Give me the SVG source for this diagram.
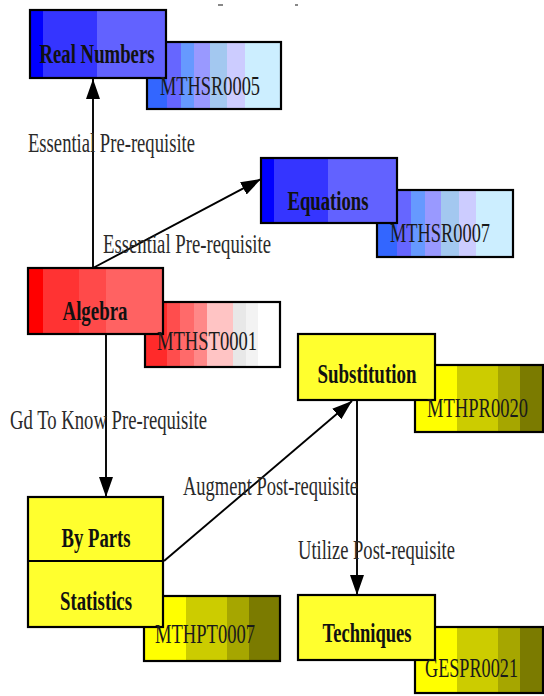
<svg xmlns="http://www.w3.org/2000/svg" width="544" height="696" viewBox="0 0 544 696">
<defs>
<style>
.bx{stroke:#000;stroke-width:2.2}
.nm{font-family:"Liberation Serif","Times New Roman",serif;font-weight:bold;font-size:28px;fill:#111;text-anchor:middle}
.cd{font-family:"Liberation Serif","Times New Roman",serif;font-size:27px;fill:#1a1a1a}
.cs{font-family:"Liberation Serif","Times New Roman",serif;font-size:20px;fill:#1a1a1a}
.lb{font-family:"Liberation Serif","Times New Roman",serif;font-size:27px;fill:#2a2a2a}
.ln{stroke:#000;stroke-width:1.9;fill:none}
.ar{marker-end:url(#ah)}
</style>
<marker id="ah" markerUnits="userSpaceOnUse" markerWidth="22" markerHeight="14" refX="20" refY="7" orient="auto">
<path d="M0,0 L20,7 L0,14 z" fill="#000"/>
</marker>
<linearGradient id="bm" x1="0" x2="1" y1="0" y2="0">
<stop offset="0" stop-color="#0000ff"/><stop offset="0.095" stop-color="#0000ff"/>
<stop offset="0.095" stop-color="#3535ff"/><stop offset="0.49" stop-color="#3535ff"/>
<stop offset="0.49" stop-color="#6262ff"/><stop offset="1" stop-color="#6262ff"/>
</linearGradient>
<linearGradient id="bc" x1="0" x2="1" y1="0" y2="0">
<stop offset="0" stop-color="#3366ff"/><stop offset="0.15" stop-color="#3366ff"/>
<stop offset="0.15" stop-color="#6666ff"/><stop offset="0.25" stop-color="#6666ff"/>
<stop offset="0.25" stop-color="#6699ff"/><stop offset="0.35" stop-color="#6699ff"/>
<stop offset="0.35" stop-color="#9999ff"/><stop offset="0.47" stop-color="#9999ff"/>
<stop offset="0.47" stop-color="#a3c8f0"/><stop offset="0.6" stop-color="#a3c8f0"/>
<stop offset="0.6" stop-color="#ccccff"/><stop offset="0.73" stop-color="#ccccff"/>
<stop offset="0.73" stop-color="#cceeff"/><stop offset="1" stop-color="#cceeff"/>
</linearGradient>
<linearGradient id="rm" x1="0" x2="1" y1="0" y2="0">
<stop offset="0" stop-color="#ff0000"/><stop offset="0.11" stop-color="#ff0000"/>
<stop offset="0.11" stop-color="#ff3333"/><stop offset="0.38" stop-color="#ff3333"/>
<stop offset="0.38" stop-color="#ff4a4a"/><stop offset="0.58" stop-color="#ff4a4a"/>
<stop offset="0.58" stop-color="#ff6262"/><stop offset="1" stop-color="#ff6262"/>
</linearGradient>
<linearGradient id="rc" x1="0" x2="1" y1="0" y2="0">
<stop offset="0" stop-color="#ff2a2a"/><stop offset="0.16" stop-color="#ff2a2a"/>
<stop offset="0.16" stop-color="#ff4d4d"/><stop offset="0.26" stop-color="#ff4d4d"/>
<stop offset="0.26" stop-color="#ff6a6a"/><stop offset="0.36" stop-color="#ff6a6a"/>
<stop offset="0.36" stop-color="#ff8888"/><stop offset="0.46" stop-color="#ff8888"/>
<stop offset="0.46" stop-color="#ffc4c4"/><stop offset="0.65" stop-color="#ffc4c4"/>
<stop offset="0.65" stop-color="#e8e8e8"/><stop offset="0.75" stop-color="#e8e8e8"/>
<stop offset="0.75" stop-color="#f3f3f3"/><stop offset="0.84" stop-color="#f3f3f3"/>
<stop offset="0.84" stop-color="#ffffff"/><stop offset="1" stop-color="#ffffff"/>
</linearGradient>
<linearGradient id="yc" x1="0" x2="1" y1="0" y2="0">
<stop offset="0" stop-color="#ffff00"/><stop offset="0.31" stop-color="#ffff00"/>
<stop offset="0.31" stop-color="#cccc00"/><stop offset="0.61" stop-color="#cccc00"/>
<stop offset="0.61" stop-color="#a6a600"/><stop offset="0.77" stop-color="#a6a600"/>
<stop offset="0.77" stop-color="#7b7b00"/><stop offset="1" stop-color="#7b7b00"/>
</linearGradient>
<linearGradient id="yc2" gradientUnits="userSpaceOnUse" x1="415" x2="551" y1="0" y2="0">
<stop offset="0" stop-color="#ffff00"/><stop offset="0.31" stop-color="#ffff00"/>
<stop offset="0.31" stop-color="#cccc00"/><stop offset="0.61" stop-color="#cccc00"/>
<stop offset="0.61" stop-color="#a6a600"/><stop offset="0.77" stop-color="#a6a600"/>
<stop offset="0.77" stop-color="#7b7b00"/><stop offset="1" stop-color="#7b7b00"/>
</linearGradient>
</defs>
<rect width="544" height="696" fill="#fff"/>
<rect x="218" y="4" width="5" height="2" fill="#888"/>
<rect x="295" y="4" width="3" height="2" fill="#888"/>

<g id="connectors">
<line class="ln ar" x1="93" y1="268" x2="93" y2="79"/>
<line class="ln ar" x1="93" y1="268" x2="261" y2="179"/>
<line class="ln ar" x1="106" y1="334" x2="106" y2="497"/>
<line class="ln ar" x1="164" y1="561" x2="352" y2="401"/>
<line class="ln ar" x1="357" y1="400" x2="357" y2="595"/>
</g>

<g id="labels">
<text class="lb" x="28" y="152" textLength="167" lengthAdjust="spacingAndGlyphs">Essential Pre-requisite</text>
<text class="lb" x="103" y="253" textLength="168" lengthAdjust="spacingAndGlyphs">Essential Pre-requisite</text>
<text class="lb" x="10" y="429" textLength="197" lengthAdjust="spacingAndGlyphs">Gd To Know Pre-requisite</text>
<text class="lb" x="183" y="495" textLength="175" lengthAdjust="spacingAndGlyphs">Augment Post-requisite</text>
<text class="lb" x="298" y="559" textLength="157" lengthAdjust="spacingAndGlyphs">Utilize Post-requisite</text>
</g>

<g id="real-numbers">
<rect class="bx" x="147" y="42" width="134" height="67" fill="url(#bc)"/>
<rect class="bx" x="30" y="10" width="136" height="68" fill="url(#bm)"/>
<text class="nm" x="97" y="63" textLength="115" lengthAdjust="spacingAndGlyphs">Real Numbers</text>
<text class="cd" x="160" y="95" textLength="100" lengthAdjust="spacingAndGlyphs">MTHSR0005</text>
</g>

<g id="equations">
<rect class="bx" x="377" y="190" width="136" height="67" fill="url(#bc)"/>
<rect class="bx" x="261" y="158" width="136" height="65" fill="url(#bm)"/>
<text class="nm" x="328" y="210" textLength="81" lengthAdjust="spacingAndGlyphs">Equations</text>
<text class="cd" x="390" y="242" textLength="100" lengthAdjust="spacingAndGlyphs">MTHSR0007</text>
</g>

<g id="algebra">
<rect class="bx" x="145" y="302" width="135" height="65" fill="url(#rc)"/>
<rect class="bx" x="28" y="268" width="135" height="66" fill="url(#rm)"/>
<text class="nm" x="95" y="320" textLength="65" lengthAdjust="spacingAndGlyphs">Algebra</text>
<text class="cd" x="157" y="350" textLength="100" lengthAdjust="spacingAndGlyphs">MTHST0001</text>
</g>

<g id="substitution">
<rect class="bx" x="415" y="365" width="128" height="67" fill="url(#yc2)"/>
<rect class="bx" x="298" y="334" width="137" height="66" fill="#ffff2e"/>
<text class="nm" x="367" y="383" textLength="99" lengthAdjust="spacingAndGlyphs">Substitution</text>
<text class="cs" transform="translate(427,417) scale(1,1.35)" x="0" y="0" textLength="101" lengthAdjust="spacingAndGlyphs">MTHPR0020</text>
</g>

<g id="by-parts-statistics">
<rect class="bx" x="144" y="596" width="136" height="65" fill="url(#yc)"/>
<rect class="bx" x="28" y="497" width="135" height="130" fill="#ffff2e"/>
<line class="bx" x1="28" y1="561" x2="163" y2="561"/>
<text class="nm" x="96" y="547" textLength="69" lengthAdjust="spacingAndGlyphs">By Parts</text>
<text class="nm" x="96" y="610" textLength="72" lengthAdjust="spacingAndGlyphs">Statistics</text>
<text class="cd" x="155" y="643" textLength="100" lengthAdjust="spacingAndGlyphs">MTHPT0007</text>
</g>

<g id="techniques">
<rect class="bx" x="415" y="627" width="128" height="66" fill="url(#yc2)"/>
<rect class="bx" x="298" y="595" width="137" height="65" fill="#ffff2e"/>
<text class="nm" x="367" y="642" textLength="89" lengthAdjust="spacingAndGlyphs">Techniques</text>
<text class="cs" transform="translate(425,677) scale(1,1.35)" x="0" y="0" textLength="93" lengthAdjust="spacingAndGlyphs">GESPR0021</text>
</g>
</svg>
